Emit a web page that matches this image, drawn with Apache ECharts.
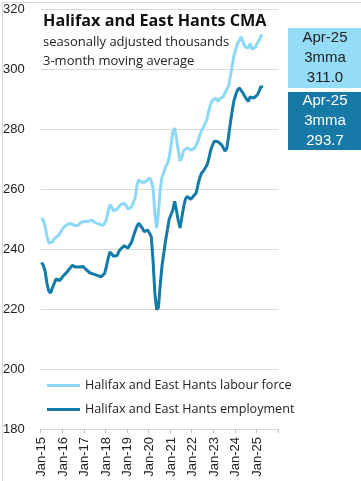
<!DOCTYPE html>
<html><head><meta charset="utf-8">
<script src="https://cdn.jsdelivr.net/npm/echarts@6/dist/echarts.min.js"></script>
<style>html,body{margin:0;padding:0;background:#fff}#c{width:361px;height:481px}</style>
</head><body><div id="c"></div>
<script>
// Months Jan-15 .. Dec-25 (axis spans through end of 2025; data through Apr-25)
const monthNames = ['Jan','Feb','Mar','Apr','May','Jun','Jul','Aug','Sep','Oct','Nov','Dec'];
const categories = [];
for (let y = 15; y <= 25; y++) for (const m of monthNames) categories.push(m + '-' + y);

const seriesNames = ['Halifax and East Hants labour force', 'Halifax and East Hants employment'];

const labourForce = [
250.4,249.5,247.5,244.0,242.0,241.6,242.3,243.4,244.0,244.3,245.0,246.0,
247.0,247.6,248.1,248.4,248.5,248.4,248.0,247.8,247.7,248.2,249.0,249.6,
249.2,248.8,249.2,249.5,249.6,249.1,248.7,248.5,248.3,248.1,247.8,248.5,
249.8,252.5,254.8,254.0,252.7,252.6,253.3,254.0,254.8,255.2,255.3,254.5,
253.3,253.0,254.0,254.3,257.0,261.0,263.1,262.4,262.0,262.2,262.5,263.0,
263.7,262.8,260.3,252.0,247.0,252.0,259.8,264.0,265.5,267.5,268.5,270.5,
274.5,279.0,280.3,277.0,273.0,269.3,270.5,272.8,273.3,273.7,273.3,273.0,
273.2,273.5,273.8,276.0,278.0,279.5,280.5,282.0,283.3,286.0,288.2,289.5,
289.6,290.3,289.2,290.0,289.8,290.7,292.0,293.2,294.3,297.5,301.0,304.5,
306.5,308.5,309.5,310.8,309.0,307.5,307.2,307.0,308.6,306.6,306.8,307.2,
308.7,309.5,311.2,311.0
];

const employment = [
235.5,234.5,232.5,228.5,226.0,225.3,227.0,228.5,230.0,229.8,229.5,230.2,
231.0,231.5,232.2,233.0,233.7,234.5,234.7,234.0,233.6,234.0,234.4,234.2,
233.6,233.0,232.5,232.0,231.8,231.6,231.4,231.2,230.8,230.7,230.6,231.8,
234.0,236.8,239.0,238.3,237.6,237.2,237.8,239.2,240.0,240.6,241.1,240.5,
240.3,240.8,242.2,242.8,245.9,247.5,248.6,248.0,247.0,245.8,245.5,246.3,
245.8,244.2,236.0,225.3,219.8,220.5,228.0,234.5,238.7,243.0,246.4,250.0,
251.5,253.0,255.9,253.0,249.5,247.0,247.2,254.0,256.6,257.5,257.8,256.6,
257.2,258.0,258.7,261.5,263.8,265.3,266.0,266.4,268.0,270.0,272.8,274.5,
275.9,276.2,275.8,275.4,274.8,273.8,272.6,273.5,277.5,282.0,286.0,289.5,
291.4,293.0,293.7,293.1,292.0,290.9,290.0,289.2,290.7,290.4,290.3,290.9,
291.4,292.6,294.2,293.7
];

const yTicks = [180, 200, 220, 240, 260, 280, 300, 320];
const boxTag = '3mma';

const lightColor = '#8DD8F8';
const darkColor = '#127BA8';
const lastIdx = labourForce.length - 1;
const lastLabel = categories[lastIdx];

const chart = echarts.init(document.getElementById('c'), null, {renderer: 'canvas'});
const axisFont = 'Liberation Sans, Arial, sans-serif';
const textFont = 'Open Sans, sans-serif';

chart.setOption({
  animation: false,
  backgroundColor: '#ffffff',
  title: {
    text: 'Halifax and East Hants CMA',
    subtext: 'seasonally adjusted thousands\n3-month moving average',
    left: 38, top: 8, itemGap: 4,
    textStyle: {fontFamily: textFont, fontSize: 16.2, fontWeight: 'bold', color: '#111'},
    subtextStyle: {fontFamily: textFont, fontSize: 13, color: '#222', lineHeight: 19}
  },
  legend: {
    orient: 'vertical', left: 42, top: 374, itemGap: 11,
    itemWidth: 33, itemHeight: 3, icon: 'rect',
    textStyle: {fontFamily: textFont, fontSize: 12.6, color: '#222'},
    data: seriesNames
  },
  grid: {left: 40, right: 83, top: 9, bottom: 52, containLabel: false},
  xAxis: {
    type: 'category', data: categories, boundaryGap: true,
    axisLine: {lineStyle: {color: '#d9d9d9'}},
    axisTick: {show: true, interval: 11, length: 4, lineStyle: {color: '#bfbfbf'}},
    axisLabel: {interval: 11, rotate: 90, fontFamily: axisFont, fontSize: 13, color: '#222', margin: 8}
  },
  yAxis: {
    type: 'value', min: yTicks[0], max: yTicks[yTicks.length - 1], interval: 20,
    axisLine: {show: false}, axisTick: {show: false},
    splitLine: {lineStyle: {color: '#d9d9d9'}},
    axisLabel: {fontFamily: axisFont, fontSize: 13, color: '#222', margin: 16}
  },
  series: [
    {name: seriesNames[0], type: 'line', data: labourForce, showSymbol: false, symbol: 'none',
     lineStyle: {color: lightColor, width: 3}, itemStyle: {color: lightColor}},
    {name: seriesNames[1], type: 'line', data: employment, showSymbol: false, symbol: 'none',
     lineStyle: {color: darkColor, width: 3}, itemStyle: {color: darkColor}}
  ],
  graphic: [
    {type: 'rect', left: 0, top: 0, shape: {x: 0.5, y: 0.5, width: 360, height: 480},
     style: {fill: 'none', stroke: '#d9d9d9', lineWidth: 1}, silent: true},
    {type: 'rect', shape: {x: 288, y: 28, width: 73, height: 60}, style: {fill: '#94DCF8'}},
    {type: 'text', x: 325, y: 58, style: {text: lastLabel + '\n' + boxTag + '\n' + labourForce[lastIdx].toFixed(1),
      fill: '#222', font: '15px Liberation Sans, Arial, sans-serif', align: 'center', verticalAlign: 'middle', lineHeight: 20}},
    {type: 'rect', shape: {x: 288, y: 92, width: 73, height: 58}, style: {fill: '#1779A6'}},
    {type: 'text', x: 325, y: 121, style: {text: lastLabel + '\n' + boxTag + '\n' + employment[lastIdx].toFixed(1),
      fill: '#ffffff', font: '15px Liberation Sans, Arial, sans-serif', align: 'center', verticalAlign: 'middle', lineHeight: 20}}
  ]
});
</script></body></html>
